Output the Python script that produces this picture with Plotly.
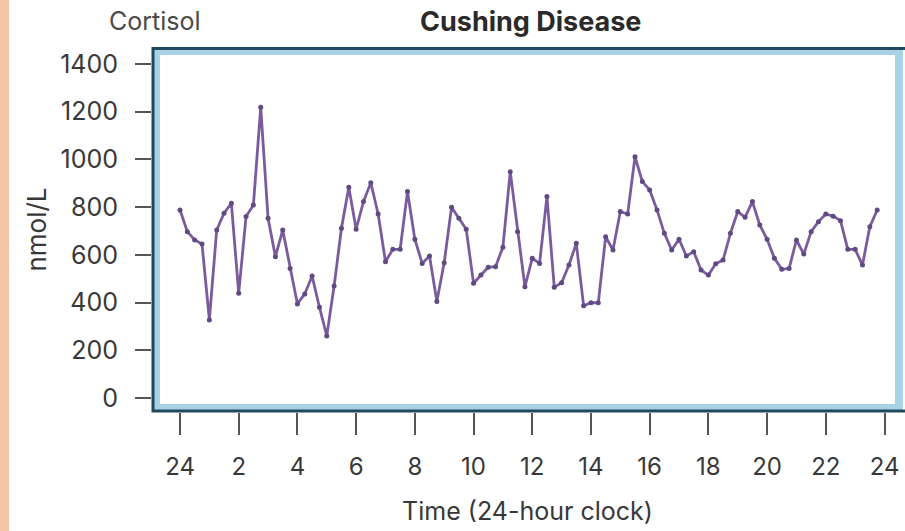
import plotly.graph_objects as go

hours = [0.0, 0.25, 0.5, 0.75, 1.0, 1.25, 1.5, 1.75, 2.0, 2.25, 2.5, 2.75,
         3.0, 3.25, 3.5, 3.75, 4.0, 4.25, 4.5, 4.75, 5.0, 5.25, 5.5, 5.75,
         6.0, 6.25, 6.5, 6.75, 7.0, 7.25, 7.5, 7.75, 8.0, 8.25, 8.5, 8.75,
         9.0, 9.25, 9.5, 9.75, 10.0, 10.25, 10.5, 10.75, 11.0, 11.25, 11.5, 11.75,
         12.0, 12.25, 12.5, 12.75, 13.0, 13.25, 13.5, 13.75, 14.0, 14.25, 14.5, 14.75,
         15.0, 15.25, 15.5, 15.75, 16.0, 16.25, 16.5, 16.75, 17.0, 17.25, 17.5, 17.75,
         18.0, 18.25, 18.5, 18.75, 19.0, 19.25, 19.5, 19.75, 20.0, 20.25, 20.5, 20.75,
         21.0, 21.25, 21.5, 21.75, 22.0, 22.25, 22.5, 22.75, 23.0, 23.25, 23.5, 23.75]

cortisol = [788, 697, 662, 645, 327, 704, 774, 816, 439, 760, 809, 1218,
            753, 592, 704, 543, 394, 436, 511, 380, 260, 469, 711, 883,
            707, 823, 902, 771, 571, 623, 623, 865, 665, 564, 595, 404,
            567, 799, 753, 707, 481, 515, 548, 550, 632, 948, 697, 466,
            585, 564, 844, 464, 483, 557, 648, 386, 399, 399, 676, 620,
            781, 771, 1011, 907, 872, 788, 690, 620, 665, 595, 613, 536,
            515, 562, 578, 690, 781, 757, 823, 725, 665, 585, 539, 543,
            662, 603, 697, 739, 771, 762, 743, 623, 623, 557, 718, 788]

x_tickvals = [0, 2, 4, 6, 8, 10, 12, 14, 16, 18, 20, 22, 24]
x_ticktext = ["24", "2", "4", "6", "8", "10", "12", "14", "16", "18", "20", "22", "24"]
y_tickvals = [0, 200, 400, 600, 800, 1000, 1200, 1400]

W, H = 905, 531
ML, MR, MT, MB = 152, 2, 47, 119
PW, PH = W - ML - MR, H - MT - MB

FONT = "Inter, Liberation Sans, Arial, sans-serif"
TXT = "#383838"

fig = go.Figure()
fig.add_trace(go.Scatter(
    x=hours, y=cortisol, mode="lines+markers",
    line=dict(color="#7a5c9e", width=2.8),
    marker=dict(color="#5f4a82", size=5),
    hoverinfo="skip", showlegend=False,
))

def px_x(p):
    return (p - ML) / PW

def px_y(p):
    return 1 - (p - MT) / PH

shapes = [
    dict(type="rect", xref="paper", yref="paper", x0=px_x(0), x1=px_x(9),
         y0=px_y(H), y1=px_y(0), fillcolor="#f6c5a5", line=dict(width=0), layer="below"),
    dict(type="rect", xref="paper", yref="paper", x0=px_x(156), x1=px_x(899),
         y0=px_y(408), y1=px_y(51), fillcolor="rgba(0,0,0,0)",
         line=dict(color="#a9d2e6", width=8), layer="above"),
    dict(type="path", xref="paper", yref="paper",
         path=f"M {px_x(905)},{px_y(48.5)} L {px_x(153)},{px_y(48.5)} L {px_x(153)},{px_y(411)} L {px_x(905)},{px_y(411)}",
         line=dict(color="#1f4a5e", width=3), layer="above"),
]

fig.update_layout(
    width=W, height=H,
    margin=dict(l=ML, r=MR, t=MT, b=MB, autoexpand=False),
    paper_bgcolor="white", plot_bgcolor="white",
    font=dict(family=FONT, color=TXT, size=22),
    shapes=shapes,
    xaxis=dict(
        range=[-0.954, 24.63], tickmode="array", tickvals=x_tickvals, ticktext=x_ticktext,
        showgrid=False, zeroline=False, showline=False,
        ticks="outside", ticklen=22, tickwidth=1.5, tickcolor="#555",
        ticklabelstandoff=11, tickfont=dict(size=24, family=FONT, color=TXT),
        title=dict(text="Time (24-hour clock)", font=dict(size=25, family=FONT, color=TXT), standoff=22),
        fixedrange=True, automargin=False,
    ),
    yaxis=dict(
        range=[-59, 1471], tickmode="array", tickvals=y_tickvals,
        showgrid=False, zeroline=False, showline=False,
        ticks="outside", ticklen=16, tickwidth=1.5, tickcolor="#555",
        ticklabelstandoff=12, tickfont=dict(size=25, family=FONT, color=TXT),
        title=dict(text="nmol/L", font=dict(size=26, family=FONT, color=TXT), standoff=6),
        fixedrange=True, automargin=False,
    ),
    annotations=[
        dict(text="Cortisol", xref="paper", yref="paper", x=px_x(155), y=px_y(21),
             showarrow=False, xanchor="center", yanchor="middle",
             font=dict(size=25, family=FONT, color="#4a4a4a")),
        dict(text="<b>Cushing Disease</b>", xref="paper", yref="paper", x=px_x(530), y=px_y(21),
             showarrow=False, xanchor="center", yanchor="middle",
             font=dict(size=27, family=FONT, color="#2a2a2a")),
    ],
)

fig.write_html("out.html", config={"displayModeBar": False},
               post_script="document.body.style.margin='0';document.body.style.padding='0';")
